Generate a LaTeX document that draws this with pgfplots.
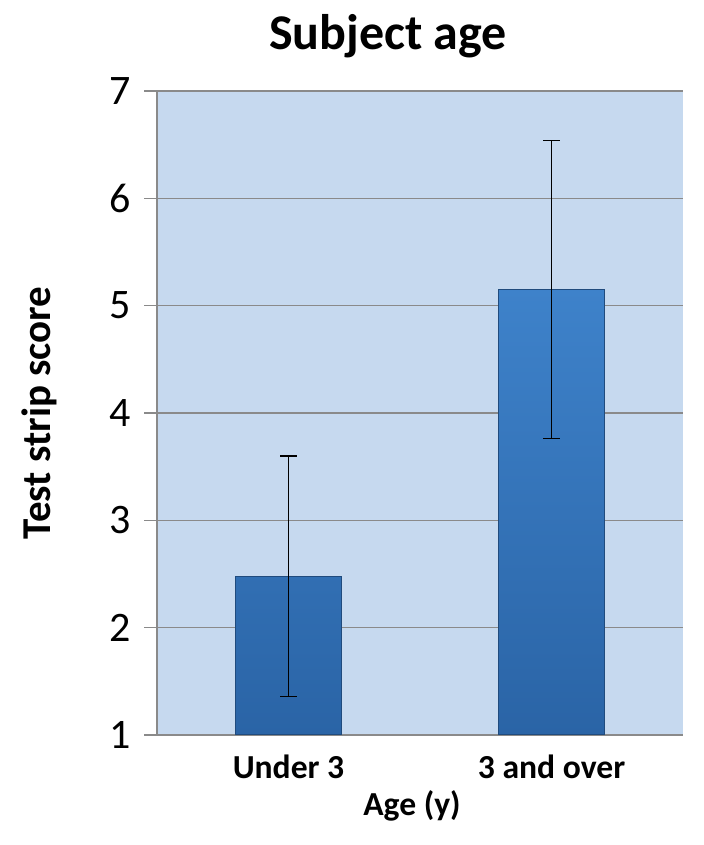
\documentclass[border=0pt]{standalone}
\usepackage{pgfplots}
\pgfplotsset{compat=1.18}
\usepackage{fontspec}
\setmainfont{Carlito}
\definecolor{plotbg}{RGB}{198,217,239}
\definecolor{barhi}{RGB}{62,130,202}
\definecolor{barlo}{RGB}{42,100,166}
\definecolor{gridgray}{RGB}{138,138,138}

\begin{document}
\begin{tikzpicture}
\begin{axis}[
  width=263pt, height=322pt, scale only axis,
  xmin=-0.5, xmax=1.5, ymin=1, ymax=7,
  ytick={1,2,3,4,5,6,7},
  xtick={0,1}, xticklabels={Under 3, 3 and over},
  axis lines=left, axis line style={gridgray, line width=0.8pt, -},
  axis background/.style={fill=plotbg},
  ymajorgrids, grid style={gridgray, line width=0.6pt},
  x tick style={draw=none},
  y tick style={gridgray, line width=0.8pt},
  tick align=outside, major tick length=6.5pt,
  /pgf/number format/assume math mode=true,
  yticklabel style={font=\fontsize{21}{23}\selectfont, xshift=-3pt},
  xticklabel style={font=\bfseries\fontsize{16.8}{19}\selectfont, anchor=base, yshift=-15pt},
  title={Subject age},
  title style={font=\bfseries\fontsize{25}{28}\selectfont,
    at={([xshift=-16pt, yshift=14.5pt]axis description cs:0.5,1)}, anchor=base},
  xlabel={Age (y)},
  xlabel style={font=\bfseries\fontsize{16.8}{19}\selectfont,
    at={([xshift=-4pt, yshift=-40pt]axis description cs:0.5,0)}, anchor=base},
  ylabel={Test strip score},
  ylabel style={font=\bfseries\fontsize{20.5}{23}\selectfont,
    at={([xshift=-59pt]axis description cs:0,0.5)}, anchor=center},
  ybar, bar width=53pt,
]
\addplot[top color=barhi, bottom color=barlo, draw=barlo!75!black, line width=0.6pt,
  error bars/.cd, y dir=both, y explicit,
  error bar style={black, line width=0.7pt},
  error mark options={rotate=90, mark size=4.2pt, black, line width=0.7pt}]
  coordinates {(0,2.48) +- (0,1.12) (1,5.15) +- (0,1.39)};
\coordinate (sw) at (rel axis cs:0,0);
\coordinate (ne) at (rel axis cs:1,1);
\end{axis}
\pgfresetboundingbox
\path ([shift={(-78.5pt,-55pt)}]sw) rectangle ([shift={(10pt,45.5pt)}]ne);
\end{tikzpicture}
\end{document}
